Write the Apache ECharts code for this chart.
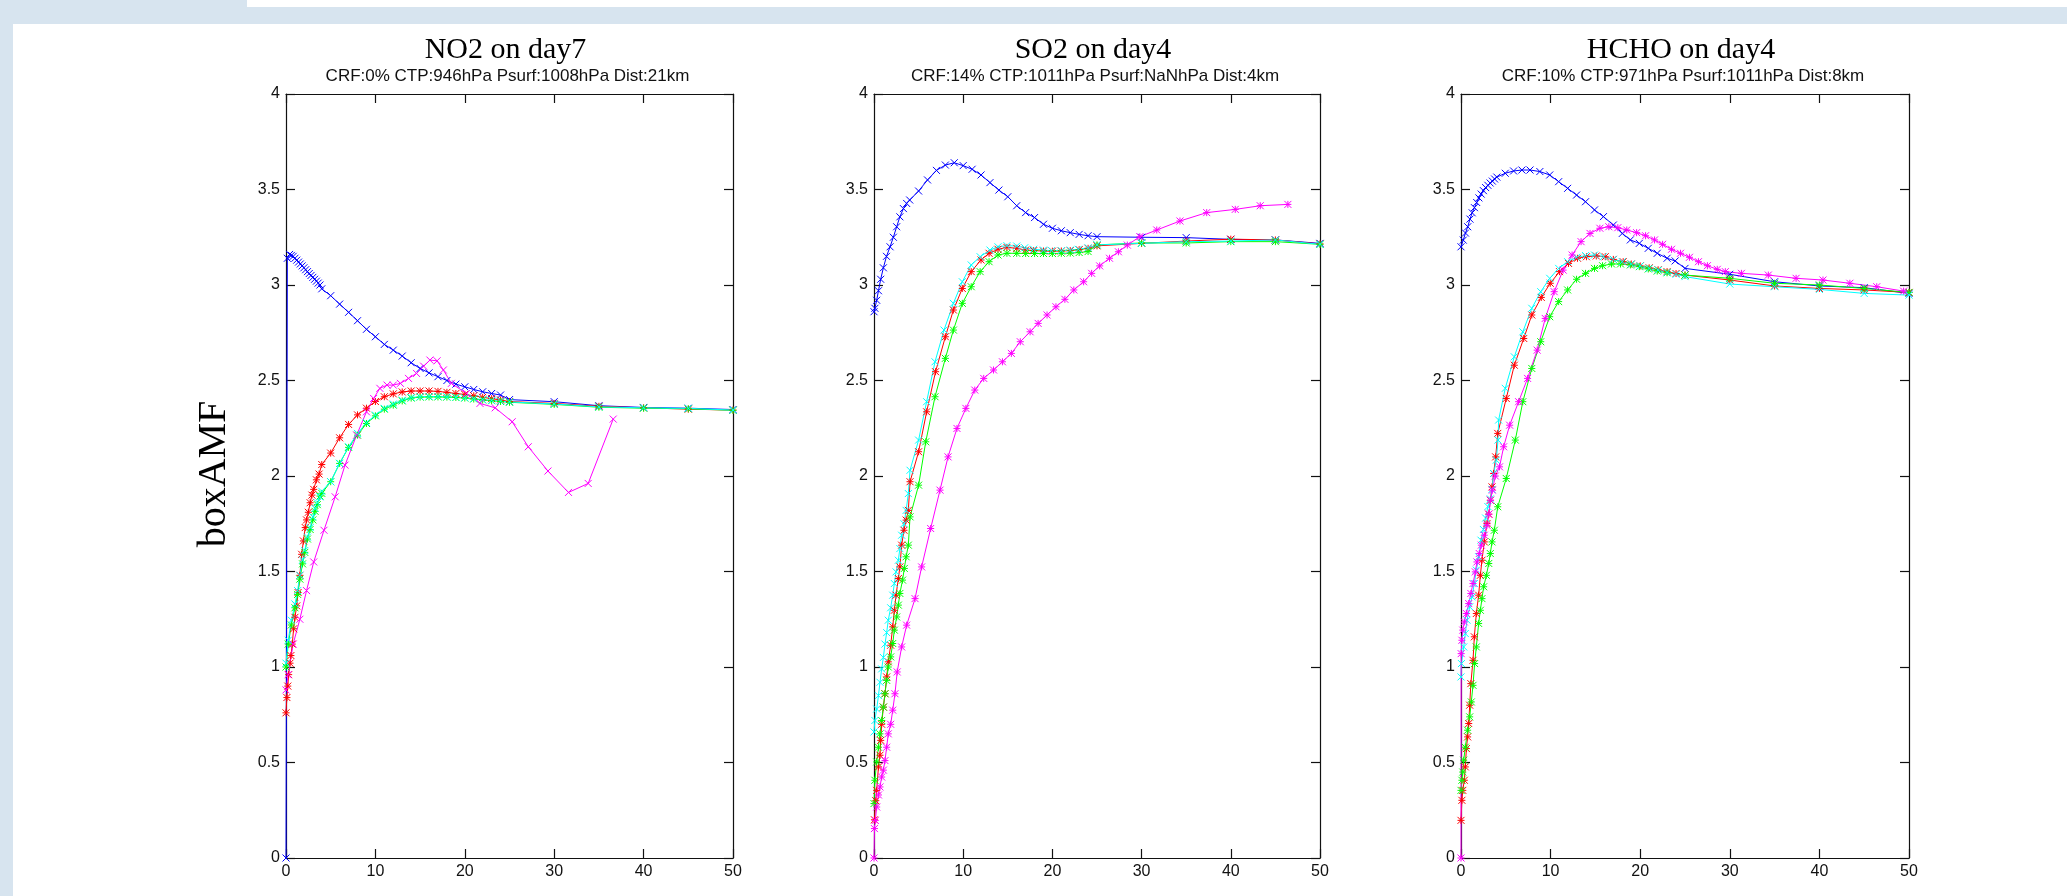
<!DOCTYPE html>
<html>
<head>
<meta charset="utf-8">
<script src="https://cdn.jsdelivr.net/npm/echarts@6/dist/echarts.min.js"></script>
<style>
  html, body { margin: 0; padding: 0; background: #ffffff; }
  #chart { width: 2067px; height: 896px; }
</style>
</head>
<body>
<div id="chart"></div>
<script>
// Box air mass factor profiles, [x, boxAMF] pairs per curve.

// Panel titles and retrieval conditions
const panelTitles = ['NO2 on day7', 'SO2 on day4', 'HCHO on day4'];
const panelSubtitles = [
  'CRF:0% CTP:946hPa Psurf:1008hPa Dist:21km',
  'CRF:14% CTP:1011hPa Psurf:NaNhPa Dist:4km',
  'CRF:10% CTP:971hPa Psurf:1011hPa Dist:8km'
];
const yAxisTitle = 'boxAMF';

// Axis ranges
const xMin = 0, xMax = 50, xStep = 10;
const yMin = 0, yMax = 4, yStep = 0.5;

// ---- NO2 on day7 ----
const no2Blue = [[0,0],[0.15,3.14],[0.4,3.16],[0.6,3.155],[0.8,3.15],[1.0,3.14],[1.2,3.13],[1.4,3.12],[1.6,3.11],[1.8,3.1],[2.0,3.09],[2.2,3.08],[2.4,3.07],[2.6,3.06],[2.8,3.05],[3.0,3.04],[3.2,3.03],[3.4,3.02],[3.6,3.01],[3.8,3.0],[4,2.98],[5,2.944],[6,2.9],[7,2.857],[8,2.813],[9,2.768],[10,2.729],[11,2.689],[12,2.659],[13,2.628],[14,2.593],[15,2.563],[16,2.54],[17,2.52],[18,2.5],[19,2.481],[20,2.467],[21,2.453],[22,2.441],[23,2.432],[24,2.424],[25,2.4],[30,2.389],[35,2.368],[40,2.359],[45,2.355],[50,2.348]];
const no2Red = [[0,0.76],[0.1,0.84],[0.2,0.9],[0.3,0.96],[0.45,1.02],[0.55,1.06],[0.7,1.12],[0.85,1.2],[1.0,1.26],[1.2,1.32],[1.35,1.39],[1.55,1.48],[1.75,1.59],[1.95,1.66],[2.15,1.73],[2.3,1.77],[2.5,1.81],[2.7,1.86],[2.9,1.9],[3.1,1.93],[3.4,1.98],[3.7,2.01],[4,2.06],[5,2.12],[6,2.2],[7,2.27],[8,2.32],[9,2.355],[10,2.39],[11,2.415],[12,2.43],[13,2.44],[14,2.445],[15,2.445],[16,2.445],[17,2.443],[18,2.438],[19,2.432],[20,2.427],[21,2.42],[22,2.412],[23,2.405],[24,2.398],[25,2.39],[30,2.38],[35,2.365],[40,2.357],[45,2.35],[50,2.345]];
const no2Green = [[0,1.0],[0.25,1.12],[0.6,1.22],[1.0,1.31],[1.3,1.38],[1.55,1.46],[1.85,1.54],[2.1,1.6],[2.4,1.67],[2.7,1.72],[3.0,1.77],[3.25,1.815],[3.5,1.85],[3.8,1.895],[4,1.909],[5,1.97],[6,2.066],[7,2.15],[8,2.214],[9,2.275],[10,2.315],[11,2.35],[12,2.371],[13,2.393],[14,2.408],[15,2.413],[16,2.414],[17,2.414],[18,2.413],[19,2.411],[20,2.408],[21,2.403],[22,2.398],[23,2.394],[24,2.39],[25,2.386],[30,2.375],[35,2.36],[40,2.355],[45,2.352],[50,2.344]];
const no2Cyan = [[0,1.02],[0.25,1.14],[0.6,1.245],[1.0,1.33],[1.3,1.4],[1.55,1.48],[1.85,1.56],[2.1,1.61],[2.4,1.68],[2.7,1.73],[3.0,1.786],[3.25,1.83],[3.5,1.86],[3.8,1.891],[4,1.92],[5,1.97],[6,2.066],[7,2.153],[8,2.223],[9,2.279],[10,2.319],[11,2.354],[12,2.377],[13,2.397],[14,2.411],[15,2.415],[16,2.416],[17,2.416],[18,2.415],[19,2.413],[20,2.41],[21,2.405],[22,2.4],[23,2.396],[24,2.392],[25,2.388],[30,2.377],[35,2.362],[40,2.357],[45,2.354],[50,2.345]];
const no2Magenta = [[0,0.88],[0.25,0.96],[0.8,1.12],[1.55,1.25],[2.3,1.4],[3.1,1.55],[4.25,1.716],[5.5,1.891],[6.6,2.057],[7.9,2.214],[9.0,2.336],[9.8,2.406],[10.5,2.459],[11.3,2.476],[12.0,2.476],[12.8,2.485],[13.7,2.511],[14.6,2.537],[15.4,2.575],[16.1,2.607],[16.9,2.603],[17.6,2.555],[18.5,2.485],[20.2,2.432],[21.7,2.38],[23.4,2.357],[25.3,2.284],[27.1,2.153],[29.3,2.026],[31.6,1.914],[33.8,1.961],[36.6,2.298]];

// ---- SO2 on day4 ----
const so2Blue = [[0,2.86],[0.1,2.878],[0.3,2.92],[0.5,2.97],[0.75,3.03],[1.05,3.09],[1.4,3.15],[1.8,3.2],[2.17,3.25],[2.54,3.305],[2.9,3.357],[3.3,3.4],[3.66,3.427],[4,3.445],[5,3.492],[6,3.55],[7,3.6],[8,3.628],[9,3.64],[10,3.625],[11,3.606],[12,3.576],[13,3.536],[14,3.497],[15,3.462],[16,3.415],[17,3.379],[18,3.353],[19,3.318],[20,3.297],[21,3.284],[22,3.274],[23,3.265],[24,3.258],[25,3.253],[30,3.25],[35,3.248],[40,3.239],[45,3.236],[50,3.218]];
const so2Red = [[0.05,0.2],[0.2,0.3],[0.3,0.354],[0.5,0.477],[0.67,0.538],[0.75,0.616],[0.86,0.7],[1.05,0.79],[1.23,0.86],[1.42,0.948],[1.6,1.027],[1.87,1.114],[2.1,1.21],[2.28,1.297],[2.47,1.376],[2.73,1.463],[2.9,1.524],[3.1,1.638],[3.36,1.716],[3.6,1.769],[3.85,1.82],[4.04,1.97],[5,2.127],[5.9,2.336],[6.9,2.546],[8,2.729],[8.9,2.869],[9.9,2.982],[10.9,3.07],[12,3.131],[12.9,3.166],[13.9,3.187],[14.9,3.197],[16,3.192],[17,3.183],[17.9,3.18],[19,3.178],[20,3.177],[21,3.178],[22,3.18],[23,3.185],[24,3.192],[25,3.205],[30,3.218],[35,3.23],[40,3.24],[45,3.236],[50,3.215]];
const so2Green = [[0,0.285],[0.1,0.407],[0.3,0.503],[0.5,0.58],[0.67,0.65],[0.86,0.72],[1.05,0.79],[1.23,0.86],[1.42,0.93],[1.6,1.0],[1.87,1.053],[2.1,1.123],[2.28,1.193],[2.54,1.262],[2.73,1.324],[2.9,1.385],[3.2,1.455],[3.4,1.516],[3.6,1.577],[3.85,1.638],[4.04,1.786],[5,1.952],[5.8,2.179],[6.84,2.415],[8,2.616],[8.9,2.764],[9.9,2.904],[10.9,2.991],[11.9,3.07],[12.9,3.122],[13.9,3.157],[14.9,3.166],[16,3.166],[17,3.165],[18,3.165],[19,3.165],[20,3.165],[21,3.166],[22,3.167],[23,3.17],[24,3.175],[25,3.21],[30,3.22],[35,3.22],[40,3.227],[45,3.227],[50,3.213]];
const so2Cyan = [[0,0.66],[0.1,0.72],[0.3,0.78],[0.5,0.85],[0.67,0.92],[0.86,0.99],[1.05,1.05],[1.23,1.12],[1.42,1.18],[1.6,1.245],[1.87,1.31],[2.1,1.376],[2.28,1.437],[2.47,1.498],[2.73,1.559],[2.9,1.62],[3.1,1.69],[3.36,1.75],[3.6,1.82],[3.85,1.908],[4.04,2.03],[5,2.188],[5.9,2.389],[6.84,2.598],[7.85,2.764],[8.9,2.904],[9.9,3.017],[10.9,3.105],[11.9,3.148],[13,3.183],[13.9,3.2],[14.9,3.206],[16,3.204],[16.9,3.195],[17.9,3.187],[19,3.183],[19.9,3.18],[21,3.18],[22,3.183],[22.9,3.187],[24,3.195],[25,3.21],[30,3.218],[35,3.227],[40,3.23],[45,3.236],[50,3.213]];
const so2Magenta = [[0,0],[0.05,0.154],[0.15,0.197],[0.3,0.267],[0.5,0.33],[0.67,0.372],[0.86,0.424],[1.05,0.46],[1.23,0.51],[1.42,0.58],[1.6,0.65],[1.87,0.7],[2.1,0.774],[2.35,0.86],[2.6,0.974],[3.1,1.105],[3.66,1.219],[4.6,1.358],[5.34,1.524],[6.35,1.725],[7.4,1.926],[8.3,2.1],[9.3,2.249],[10.3,2.354],[11.3,2.45],[12.3,2.511],[13.4,2.555],[14.4,2.598],[15.4,2.642],[16.4,2.703],[17.5,2.755],[18.4,2.799],[19.4,2.843],[20.4,2.886],[21.4,2.925],[22.4,2.974],[23.5,3.017],[24.4,3.061],[25.3,3.1],[26.4,3.14],[27.4,3.174],[28.4,3.209],[29.8,3.253],[31.7,3.288],[34.3,3.335],[37.3,3.379],[40.5,3.396],[43.3,3.415],[46.4,3.422]];

// ---- HCHO on day4 ----
const hchoBlue = [[0,3.2],[0.25,3.235],[0.5,3.272],[0.75,3.305],[1.0,3.345],[1.25,3.378],[1.5,3.405],[1.75,3.432],[2.0,3.456],[2.25,3.476],[2.5,3.494],[2.75,3.51],[3.0,3.522],[3.25,3.534],[3.5,3.544],[3.75,3.555],[4.0,3.565],[4.94,3.585],[5.87,3.597],[6.8,3.602],[7.7,3.602],[8.8,3.594],[9.9,3.576],[10.9,3.541],[11.9,3.506],[12.9,3.471],[13.9,3.436],[14.9,3.393],[15.9,3.358],[17,3.314],[18,3.27],[18.9,3.236],[19.9,3.218],[20.9,3.192],[21.9,3.166],[23,3.14],[23.9,3.126],[25,3.087],[30,3.056],[35,3.017],[40,2.995],[45,2.986],[50,2.956]];
const hchoRed = [[0,0.197],[0.1,0.302],[0.2,0.354],[0.37,0.407],[0.48,0.477],[0.6,0.573],[0.74,0.634],[0.86,0.704],[0.97,0.8],[1.1,0.913],[1.34,1.035],[1.49,1.158],[1.71,1.28],[1.97,1.376],[2.16,1.48],[2.34,1.559],[2.6,1.655],[2.9,1.751],[3.1,1.8],[3.27,1.873],[3.46,1.943],[3.64,2.013],[3.87,2.1],[4.1,2.223],[5.05,2.406],[5.95,2.58],[7.0,2.72],[7.9,2.843],[8.96,2.935],[9.96,3.009],[11,3.07],[12,3.113],[13,3.14],[14,3.148],[15.1,3.152],[16.1,3.148],[17,3.134],[18.1,3.122],[19,3.11],[20,3.1],[21,3.09],[22,3.08],[23,3.07],[24,3.06],[25,3.052],[30,3.026],[35,2.995],[40,2.982],[45,2.974],[50,2.961]];
const hchoGreen = [[0,0.354],[0.1,0.407],[0.2,0.45],[0.3,0.512],[0.48,0.58],[0.74,0.669],[0.97,0.739],[1.15,0.817],[1.34,0.904],[1.52,1.018],[1.71,1.105],[1.97,1.228],[2.16,1.297],[2.34,1.358],[2.53,1.42],[2.83,1.48],[3.1,1.542],[3.27,1.594],[3.46,1.655],[3.72,1.716],[4.1,1.839],[5.05,1.987],[6.06,2.188],[6.9,2.389],[7.9,2.563],[8.9,2.703],[9.9,2.834],[10.9,2.913],[11.9,2.974],[12.9,3.03],[13.9,3.061],[14.9,3.087],[15.8,3.101],[16.8,3.11],[17.8,3.11],[18.9,3.105],[19.9,3.096],[20.9,3.084],[21.9,3.073],[23,3.064],[25,3.052],[30,3.035],[35,3.009],[40,3.0],[45,2.982],[50,2.961]];
const hchoCyan = [[0,0.948],[0.05,1.018],[0.3,1.105],[0.48,1.175],[0.67,1.245],[0.97,1.315],[1.23,1.367],[1.49,1.437],[1.71,1.507],[1.97,1.577],[2.23,1.664],[2.5,1.72],[2.75,1.78],[3.0,1.84],[3.27,1.88],[3.46,1.93],[3.64,2.013],[3.94,2.083],[4.13,2.188],[4.2,2.293],[4.94,2.459],[5.95,2.624],[6.9,2.755],[7.9,2.878],[8.9,2.965],[9.9,3.035],[10.9,3.087],[11.9,3.122],[12.9,3.145],[13.9,3.154],[14.9,3.157],[15.9,3.148],[17,3.134],[18,3.122],[19,3.11],[20,3.1],[21,3.087],[22,3.078],[23,3.066],[24,3.056],[25,3.044],[30,3.005],[35,2.991],[40,2.977],[45,2.956],[50,2.947]];
const hchoMagenta = [[0,0],[0.02,1.07],[0.1,1.14],[0.2,1.193],[0.37,1.236],[0.6,1.28],[0.86,1.332],[1.1,1.385],[1.34,1.437],[1.6,1.498],[1.78,1.55],[2.04,1.594],[2.27,1.638],[2.6,1.69],[2.9,1.742],[3.1,1.8],[3.3,1.873],[3.5,1.926],[3.83,2.0],[4.3,2.048],[4.76,2.153],[5.43,2.266],[6.43,2.389],[7.43,2.511],[8.5,2.659],[9.4,2.825],[10.4,2.965],[11.4,3.078],[12.4,3.157],[13.4,3.227],[14.4,3.27],[15.5,3.297],[16.5,3.305],[17.5,3.3],[18.5,3.288],[19.6,3.274],[20.6,3.258],[21.6,3.236],[22.5,3.213],[23.5,3.187],[24.5,3.166],[25.5,3.145],[26.5,3.122],[27.5,3.101],[28.6,3.082],[29.5,3.07],[31.3,3.061],[34.3,3.052],[37.4,3.035],[40.4,3.026],[43.4,3.009],[46.4,2.991],[49.4,2.968]];

// ---------------------------------------------------------------
const SANS = '"Liberation Sans", Arial, sans-serif';
const SERIF = '"Liberation Serif", "Times New Roman", serif';
const FRAME = '#d7e4ef';

const MARK_X = 'path://M0,0L10,10M10,0L0,10';
const MARK_STAR = 'path://M0,0L10,10M10,0L0,10M5,0L5,10M0,5L10,5';

const panels = [
  { left: 286, width: 447, curves: [
    [no2Blue, '#0000ff', MARK_X], [no2Red, '#ff0000', MARK_STAR], [no2Green, '#00ff00', MARK_STAR],
    [no2Cyan, '#00ffff', MARK_X], [no2Magenta, '#ff00ff', MARK_X] ] },
  { left: 874, width: 446, curves: [
    [so2Blue, '#0000ff', MARK_X], [so2Red, '#ff0000', MARK_STAR], [so2Green, '#00ff00', MARK_STAR],
    [so2Cyan, '#00ffff', MARK_X], [so2Magenta, '#ff00ff', MARK_STAR] ] },
  { left: 1461, width: 448, curves: [
    [hchoBlue, '#0000ff', MARK_X], [hchoRed, '#ff0000', MARK_STAR], [hchoGreen, '#00ff00', MARK_STAR],
    [hchoCyan, '#00ffff', MARK_X], [hchoMagenta, '#ff00ff', MARK_STAR] ] }
];
const gridTop = 94, gridHeight = 764;

const grids = [], xAxes = [], yAxes = [], series = [], graphics = [];

const axisLineStyle = { show: true, onZero: false, lineStyle: { color: '#111', width: 1.2 } };
const tickStyle = { show: true, inside: true, length: 9, lineStyle: { color: '#111', width: 1.2 } };

panels.forEach((p, i) => {
  grids.push({ left: p.left, top: gridTop, width: p.width, height: gridHeight, containLabel: false });
  ['bottom', 'top'].forEach((pos, k) => {
    xAxes.push({
      type: 'value', gridIndex: i, position: pos, min: xMin, max: xMax, interval: xStep,
      axisLine: axisLineStyle, axisTick: tickStyle, splitLine: { show: false },
      axisLabel: { show: k === 0, color: '#111', fontFamily: SANS, fontSize: 16, margin: 6 }
    });
  });
  ['left', 'right'].forEach((pos, k) => {
    yAxes.push({
      type: 'value', gridIndex: i, position: pos, min: yMin, max: yMax, interval: yStep,
      axisLine: axisLineStyle, axisTick: tickStyle, splitLine: { show: false },
      axisLabel: { show: k === 0, color: '#111', fontFamily: SANS, fontSize: 16, margin: 6 }
    });
  });
  p.curves.forEach(([data, color, mark]) => {
    series.push({
      type: 'line', xAxisIndex: i * 2, yAxisIndex: i * 2, data: data,
      symbol: mark, symbolSize: 7, showSymbol: true,
      lineStyle: { color: color, width: 1 },
      itemStyle: { color: color, borderColor: color, borderWidth: 1 },
      emphasis: { disabled: true }, silent: true
    });
  });
  const cx = p.left + p.width / 2;
  graphics.push({ type: 'text', x: cx - 4, y: 50.5, silent: true,
    style: { text: panelTitles[i], font: '30px ' + SERIF, fill: '#000', align: 'center', verticalAlign: 'middle' } });
  graphics.push({ type: 'text', x: cx - 2, y: 76, silent: true,
    style: { text: panelSubtitles[i], font: '17px ' + SANS, fill: '#111', align: 'center', verticalAlign: 'middle' } });
});

// page frame
graphics.push({ type: 'rect', silent: true, z: -10, shape: { x: 0, y: 0, width: 13, height: 896 }, style: { fill: FRAME } });
graphics.push({ type: 'rect', silent: true, z: -10, shape: { x: 0, y: 7, width: 2067, height: 17 }, style: { fill: FRAME } });
graphics.push({ type: 'rect', silent: true, z: -10, shape: { x: 0, y: 0, width: 247, height: 7 }, style: { fill: FRAME } });

// y-axis title
graphics.push({ type: 'text', x: 214, y: 474, rotation: Math.PI / 2, silent: true,
  style: { text: yAxisTitle, font: '40px ' + SERIF, fill: '#000', align: 'center', verticalAlign: 'middle' } });

const chart = echarts.init(document.getElementById('chart'), null, { renderer: 'canvas' });
chart.setOption({
  backgroundColor: '#ffffff',
  animation: false,
  grid: grids,
  xAxis: xAxes,
  yAxis: yAxes,
  series: series,
  graphic: graphics
});
</script>
</body>
</html>
